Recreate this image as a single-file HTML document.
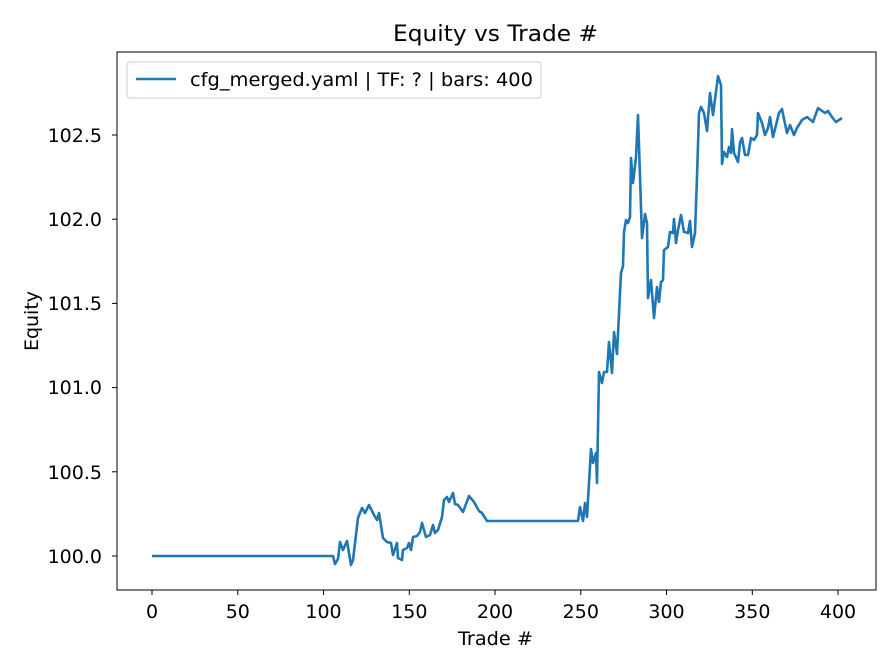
<!DOCTYPE html>
<html><head><meta charset="utf-8"><style>body{margin:0;background:#fff}svg{display:block}text{font-family:"DejaVu Sans","Liberation Sans",sans-serif;fill:#000}</style></head><body>
<svg width="896" height="672" xmlns="http://www.w3.org/2000/svg">
<rect width="896" height="672" fill="#fff"/>
<text x="393" y="41" font-size="22.5" textLength="205" lengthAdjust="spacingAndGlyphs">Equity vs Trade #</text>
<polyline fill="none" stroke="#1f77b4" stroke-width="2.6" stroke-linejoin="round" points="152,556 333,556 335,564 338,559 340,542 343,550 347,541 351,565 353,560 358,518 362,508 365,513 369,505 374,515 377,520 379,513 383,538 387,542 391,543 393,555 397,543 398,558 402,560 403,550 407,548 409,543 411,550 413,537 417,536 420,532 422,523 426,537 430,535 433,525 435,533 438,530 442,517 444,500 447,497 449,502 453,493 455,504 458,505 463,512 469,496 474,502 479,511 482,513 487,521 578,521 580,507 583,521 585,503 587,517 591,449 593,463 596,453 597,483 599,372 602,383 604,372 607,372 609,342 612,373 614,332 617,354 621,273 623,266 624,232 626,220 628,223 630,217 631,158 633,183 636,157 638,115 642,238 645,214 647,223 648,298 651,280 654,318 657,287 659,302 661,282 663,280 664,250 668,247 670,232 673,233 674,219 676,243 678,230 681,215 684,232 688,233 690,221 692,247 695,233 697,177 699,113 701,107 704,113 707,131 710,93 713,115 718,76 721,85 722,164 724,152 727,157 729,147 731,153 732,129 734,153 738,162 740,143 742,138 745,155 748,155 751,138 754,140 757,135 758,113 762,123 765,135 768,128 770,117 773,137 779,113 782,109 784,119 787,133 790,125 794,135 797,128 802,120 807,117 813,122 818,108 825,113 828,111 832,117 836,122 842,118"/>
<rect x="117" y="52" width="759" height="538" fill="none" stroke="#000" stroke-width="1"/>
<g stroke="#000" stroke-width="1">
<line x1="152" y1="590" x2="152" y2="595"/><line x1="237.8" y1="590" x2="237.8" y2="595"/><line x1="323.5" y1="590" x2="323.5" y2="595"/><line x1="409.3" y1="590" x2="409.3" y2="595"/><line x1="495" y1="590" x2="495" y2="595"/><line x1="580.8" y1="590" x2="580.8" y2="595"/><line x1="666.5" y1="590" x2="666.5" y2="595"/><line x1="752.3" y1="590" x2="752.3" y2="595"/><line x1="838" y1="590" x2="838" y2="595"/>
<line x1="112" y1="556" x2="117" y2="556"/><line x1="112" y1="471.8" x2="117" y2="471.8"/><line x1="112" y1="387.6" x2="117" y2="387.6"/><line x1="112" y1="303.4" x2="117" y2="303.4"/><line x1="112" y1="219.2" x2="117" y2="219.2"/><line x1="112" y1="135" x2="117" y2="135"/>
</g>
<g font-size="19" text-anchor="middle">
<text x="152" y="618">0</text><text x="237.8" y="618">50</text><text x="323.5" y="618">100</text><text x="409.3" y="618">150</text><text x="495" y="618">200</text><text x="580.8" y="618">250</text><text x="666.5" y="618">300</text><text x="752.3" y="618">350</text><text x="838" y="618">400</text>
</g>
<text x="458" y="645" font-size="19" textLength="75" lengthAdjust="spacingAndGlyphs">Trade #</text>
<g font-size="19" text-anchor="end">
<text x="102" y="563">100.0</text><text x="102" y="479">100.5</text><text x="102" y="394">101.0</text><text x="102" y="310">101.5</text><text x="102" y="226">102.0</text><text x="102" y="142">102.5</text>
</g>
<text transform="translate(38,321) rotate(-90)" font-size="19" text-anchor="middle">Equity</text>
<rect x="127" y="62" width="414" height="36" rx="3" fill="#fff" fill-opacity="0.8" stroke="#ccc"/>
<line x1="136" y1="79" x2="176" y2="79" stroke="#1f77b4" stroke-width="2.6"/>
<text x="190" y="86" font-size="19" textLength="343" lengthAdjust="spacingAndGlyphs">cfg_merged.yaml | TF: ? | bars: 400</text>
</svg>
</body></html>
